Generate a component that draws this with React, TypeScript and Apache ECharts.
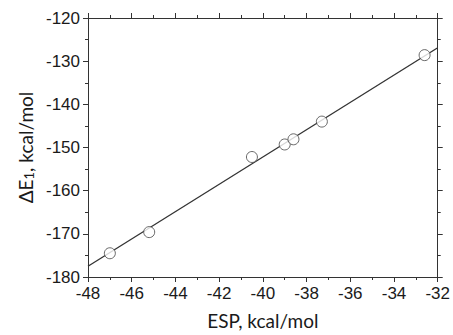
import React, { useEffect, useRef } from "react";
import * as echarts from "echarts";

const espValues = [-47.0, -45.2, -40.5, -39.0, -38.6, -37.3, -32.6];
const deltaE1Values = [-174.5, -169.6, -152.2, -149.3, -148.1, -144.0, -128.6];
const fitX = [-48, -32];
const fitY = [-177.5, -126.9];

const xMin = -48, xMax = -32, xStep = 2;
const yMin = -180, yMax = -120, yStep = 10;

const axisColor = "#333";
const textColor = "#1a1a1a";
const tickFont = "Liberation Sans, Arial, sans-serif";
const titleFont = "Lato, 'Open Sans', sans-serif";

export default function App() {
  const ref = useRef<HTMLDivElement>(null);
  useEffect(() => {
    if (!ref.current) return;
    const chart = echarts.init(ref.current, undefined, { renderer: "svg" });
    const baseAxis = (show: boolean) => ({
      type: "value" as const,
      axisLine: { show: true, onZero: false, lineStyle: { color: axisColor, width: 1 } },
      axisTick: { show: true, inside: false, length: 5, lineStyle: { color: axisColor } },
      minorTick: { show: true, splitNumber: 2, length: 3, lineStyle: { color: axisColor } },
      splitLine: { show: false },
      axisLabel: { show },
    });
    chart.setOption({
      animation: false,
      backgroundColor: "#fff",
      grid: { left: 88, right: 8, top: 18, bottom: 56 },
      xAxis: [
        {
          ...baseAxis(true),
          position: "bottom",
          min: xMin,
          max: xMax,
          interval: xStep,
          name: "ESP, kcal/mol",
          nameLocation: "middle",
          nameGap: 34,
          nameTextStyle: { fontFamily: titleFont, fontSize: 19, color: textColor },
          axisLabel: { show: true, fontFamily: tickFont, fontSize: 17, color: textColor, margin: 8 },
        },
        {
          ...baseAxis(false),
          position: "top",
          min: xMin,
          max: xMax,
          interval: xStep,
        },
      ],
      yAxis: [
        {
          ...baseAxis(true),
          position: "left",
          min: yMin,
          max: yMax,
          interval: yStep,
          name: "ΔE{sub|1}, kcal/mol",
          nameLocation: "middle",
          nameGap: 52,
          nameTextStyle: {
            fontFamily: titleFont,
            fontSize: 19,
            color: textColor,
            rich: { sub: { fontFamily: titleFont, fontSize: 13, color: textColor, verticalAlign: "bottom", padding: [7, 0, 0, 0] } },
          },
          axisLabel: { show: true, fontFamily: tickFont, fontSize: 17, color: textColor, margin: 8 },
        },
        {
          ...baseAxis(false),
          position: "right",
          min: yMin,
          max: yMax,
          interval: yStep,
        },
      ],
      series: [
        {
          type: "line",
          data: fitX.map((x, i) => [x, fitY[i]]),
          showSymbol: false,
          symbol: "none",
          lineStyle: { color: "#333", width: 1.3 },
          z: 2,
        },
        {
          type: "scatter",
          data: espValues.map((x, i) => [x, deltaE1Values[i]]),
          symbol: "circle",
          symbolSize: 11,
          itemStyle: { color: "#fff", borderColor: "#444", borderWidth: 1 },
          z: 3,
        },
      ],
    });
    return () => chart.dispose();
  }, []);
  return (
    <div
      ref={ref}
      style={{ position: "fixed", left: 0, top: 0, width: 453, height: 335, background: "#fff" }}
    />
  );
}
